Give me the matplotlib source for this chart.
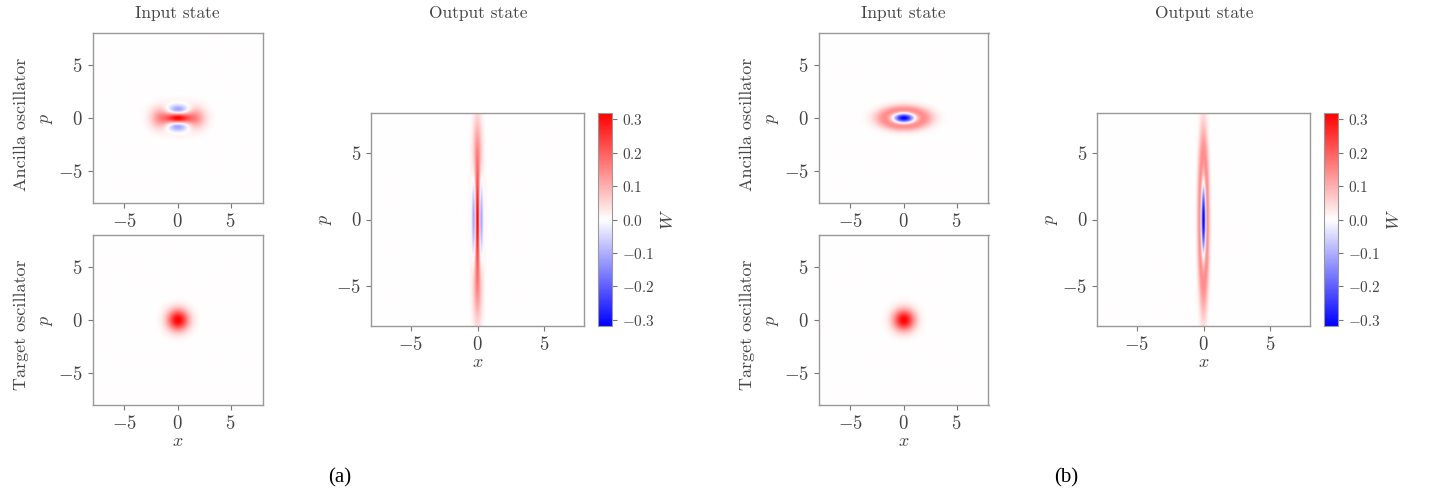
import numpy as np
import matplotlib
matplotlib.use("Agg")
import matplotlib.pyplot as plt

# Phase-space grid and axis settings
extent = 8.0
n_grid = 401
ticks = [-5, 0, 5]
cbar_ticks = [-0.3, -0.2, -0.1, 0.0, 0.1, 0.2, 0.3]

# State parameters for panel (a): even cat ancilla, vacuum target
cat_offset = 1.57        # blob centre along x (sqrt(2)*alpha)
out_squeeze_a = 3.0      # squeezing factor applied in the output state

# State parameters for panel (b): squeezed single-photon ancilla, vacuum target
fock_stretch_b = 1.5     # ancilla stretch along x
out_squeeze_b = 4.0      # squeezing factor applied in the output state

panel_labels = ["(a)", "(b)"]
row_labels = ["Ancilla oscillator", "Target oscillator"]
col_titles = ["Input state", "Output state"]

plt.rcParams.update({
    "font.family": "serif",
    "font.serif": ["cmr10"],
    "mathtext.fontset": "cm",
    "axes.formatter.use_mathtext": True,
    "axes.unicode_minus": True,
    "text.color": "#444444",
    "axes.labelcolor": "#444444",
    "xtick.color": "#777777",
    "ytick.color": "#777777",
    "xtick.labelcolor": "#444444",
    "ytick.labelcolor": "#444444",
    "axes.edgecolor": "#999999",
    "font.size": 12,
})

xs = np.linspace(-extent, extent, n_grid)
X, P = np.meshgrid(xs, xs)


def vacuum(x, p):
    return np.exp(-x**2 - p**2) / np.pi


def even_cat(x, p, x0):
    norm = 1.0 / (2.0 * (1.0 + np.exp(-x0**2)))
    w = (np.exp(-(x - x0)**2 - p**2) + np.exp(-(x + x0)**2 - p**2)
         + 2.0 * np.exp(-x**2 - p**2) * np.cos(2.0 * x0 * p))
    return norm * w / np.pi


def fock1(x, p):
    r2 = x**2 + p**2
    return (2.0 * r2 - 1.0) * np.exp(-r2) / np.pi


# Panel (a)
anc_a = even_cat(X, P, cat_offset)
tgt_a = vacuum(X, P)
# rotate the cat by 90 degrees and squeeze x
out_a = even_cat(P / out_squeeze_a, out_squeeze_a * X, cat_offset)

# Panel (b)
anc_b = fock1(X / fock_stretch_b, P * fock_stretch_b)
tgt_b = vacuum(X, P)
out_b = fock1(X * out_squeeze_b, P / out_squeeze_b)

W = 1432
H = 496
fig = plt.figure(figsize=(W / 100, H / 100), dpi=100)


def add_ax(l, t, r, b):
    return fig.add_axes([l / W, 1 - b / H, (r - l) / W, (b - t) / H])


vmax = 1.0 / np.pi
norm_kw = dict(cmap="bwr", vmin=-vmax, vmax=vmax, origin="lower",
               extent=[-extent, extent, -extent, extent], interpolation="bilinear")


def style(ax, xlabel=True):
    ax.set_xticks(ticks)
    ax.set_yticks(ticks)
    ax.set_ylabel("$p$", labelpad=2, fontsize=13)
    if xlabel:
        ax.set_xlabel("$x$", labelpad=1, fontsize=13)
    ax.tick_params(length=3.5, width=0.8, labelsize=13.5)
    for s in ax.spines.values():
        s.set_linewidth(1.0)


panels = [
    (0, anc_a, tgt_a, out_a),
    (726, anc_b, tgt_b, out_b),
]

for i, (dx, anc, tgt, out) in enumerate(panels):
    ax1 = add_ax(92 + dx, 33, 263 + dx, 203)
    ax1.imshow(anc, **norm_kw)
    style(ax1, xlabel=False)
    ax1.set_title(col_titles[0], fontsize=12.5, pad=11)

    ax2 = add_ax(92 + dx, 235, 263 + dx, 405)
    ax2.imshow(tgt, **norm_kw)
    style(ax2)

    fig.text((21 + dx) / W, 1 - 124 / H, row_labels[0], rotation=90,
             ha="center", va="center", fontsize=13)
    fig.text((21 + dx) / W, 1 - 325 / H, row_labels[1], rotation=90,
             ha="center", va="center", fontsize=13)

    ax3 = add_ax(371 + dx, 113, 584 + dx, 326)
    im = ax3.imshow(out, **norm_kw)
    style(ax3)
    fig.text((478 + dx) / W, 1 - 13 / H, col_titles[1], ha="center",
             va="center", fontsize=12.5)

    cax = add_ax(598 + dx, 113, 612 + dx, 326)
    cb = fig.colorbar(im, cax=cax, ticks=cbar_ticks)
    cb.outline.set_edgecolor("#999999")
    cax.tick_params(length=3.5, width=0.8, labelsize=11)
    cb.set_label("$W$", fontsize=13, labelpad=4)

    fig.text((340 + dx) / W, 1 - 478 / H, panel_labels[i], ha="center",
             va="center", fontsize=15, family="Liberation Serif", color="black")

fig.savefig("out.png", dpi=100)
